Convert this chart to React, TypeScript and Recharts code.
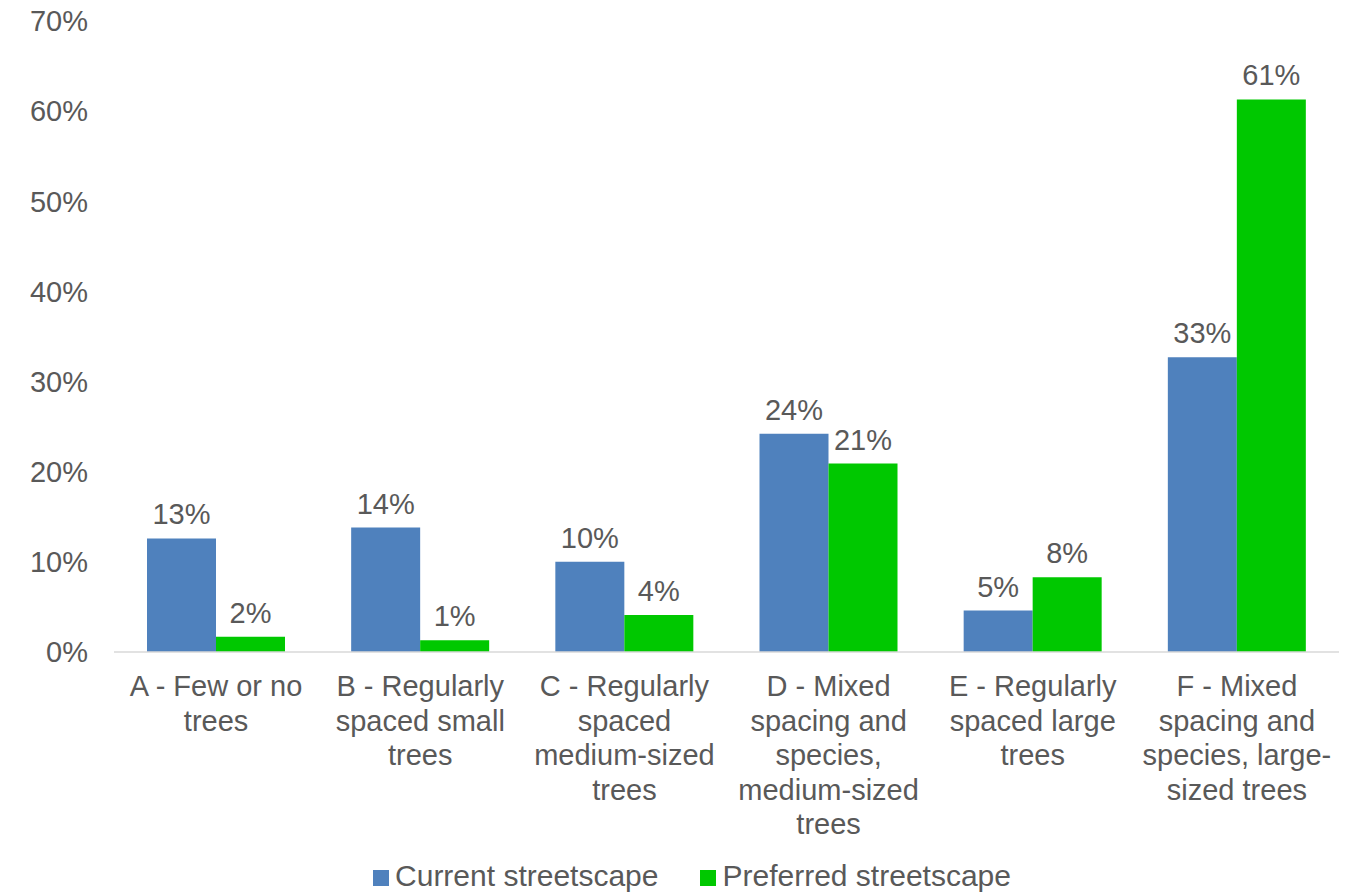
import { BarChart, Bar, XAxis, YAxis, Legend, LabelList } from "recharts";

// category labels, already broken into the lines shown under each group
const categoryLines: string[][] = [
    ["A - Few or no", "trees"],
    ["B - Regularly", "spaced small", "trees"],
    ["C - Regularly", "spaced", "medium-sized", "trees"],
    ["D - Mixed", "spacing and", "species,", "medium-sized", "trees"],
    ["E - Regularly", "spaced large", "trees"],
    ["F - Mixed", "spacing and", "species, large-", "sized trees"],
];
const categories = categoryLines.map((l) => l.join(" "));

// percentages
const current = [12.6, 13.8, 10.0, 24.2, 4.6, 32.7];
const preferred = [1.7, 1.3, 4.1, 20.9, 8.3, 61.3];

const yTicks = [0, 10, 20, 30, 40, 50, 60, 70];

const data = categories.map((name, i) => ({
    name,
    current: current[i],
    preferred: preferred[i],
}));

const TEXT = "#595959";
const FONT = "'Liberation Sans', Arial, sans-serif";
const FS = 29;

const CategoryTick = (props: any) => {
    const { x, y, payload } = props;
    const idx = categories.indexOf(payload.value);
    const lines = categoryLines[idx] || [payload.value];
    return (
        <text x={x} y={y} textAnchor="middle" fill={TEXT} fontSize={FS} fontFamily={FONT}>
            {lines.map((line, i) => (
                <tspan key={i} x={x} dy={i === 0 ? 44 : 34.5}>
                    {line}
                </tspan>
            ))}
        </text>
    );
};

export default function App() {
    return (
        <div style={{ position: "absolute", left: 0, top: 0, fontFamily: FONT }}>
            <BarChart
                width={1365}
                height={892}
                data={data}
                barGap={0}
                barCategoryGap={33}
                margin={{ top: 21, right: 26, left: 0, bottom: 1 }}
            >
                <XAxis
                    dataKey="name"
                    interval={0}
                    height={193}
                    tickSize={0}
                    tickMargin={0}
                    tickLine={false}
                    axisLine={{ stroke: "#d9d9d9", strokeWidth: 1.5 }}
                    tick={<CategoryTick />}
                />
                <YAxis
                    width={114}
                    domain={[0, 70]}
                    ticks={yTicks}
                    interval={0}
                    tickSize={0}
                    tickMargin={26}
                    axisLine={false}
                    tickLine={false}
                    tickFormatter={(v) => `${v}%`}
                    tick={{ fontSize: FS, fill: TEXT, fontFamily: FONT }}
                />
                <Legend
                    verticalAlign="bottom"
                    height={40}
                    iconType="square"
                    iconSize={16}
                    wrapperStyle={{
                        left: 64,
                        width: 1266,
                        fontSize: 30,
                        paddingTop: 6,
                        lineHeight: "34px",
                        transform: "translateY(8px)",
                    }}
                    formatter={(value, _entry, index) => (
                        <span style={{ color: TEXT, paddingLeft: 2, marginRight: index === 0 ? 32 : 0 }}>
                            {value}
                        </span>
                    )}
                />
                <Bar dataKey="current" name="Current streetscape" fill="#4F81BD" isAnimationActive={false}>
                    <LabelList
                        dataKey="current"
                        position="top"
                        offset={14}
                        formatter={(v: any) => `${Math.round(Number(v))}%`}
                        style={{ fontSize: FS, fill: TEXT, fontFamily: FONT }}
                    />
                </Bar>
                <Bar dataKey="preferred" name="Preferred streetscape" fill="#00C800" isAnimationActive={false}>
                    <LabelList
                        dataKey="preferred"
                        position="top"
                        offset={14}
                        formatter={(v: any) => `${Math.round(Number(v))}%`}
                        style={{ fontSize: FS, fill: TEXT, fontFamily: FONT }}
                    />
                </Bar>
            </BarChart>
        </div>
    );
}
